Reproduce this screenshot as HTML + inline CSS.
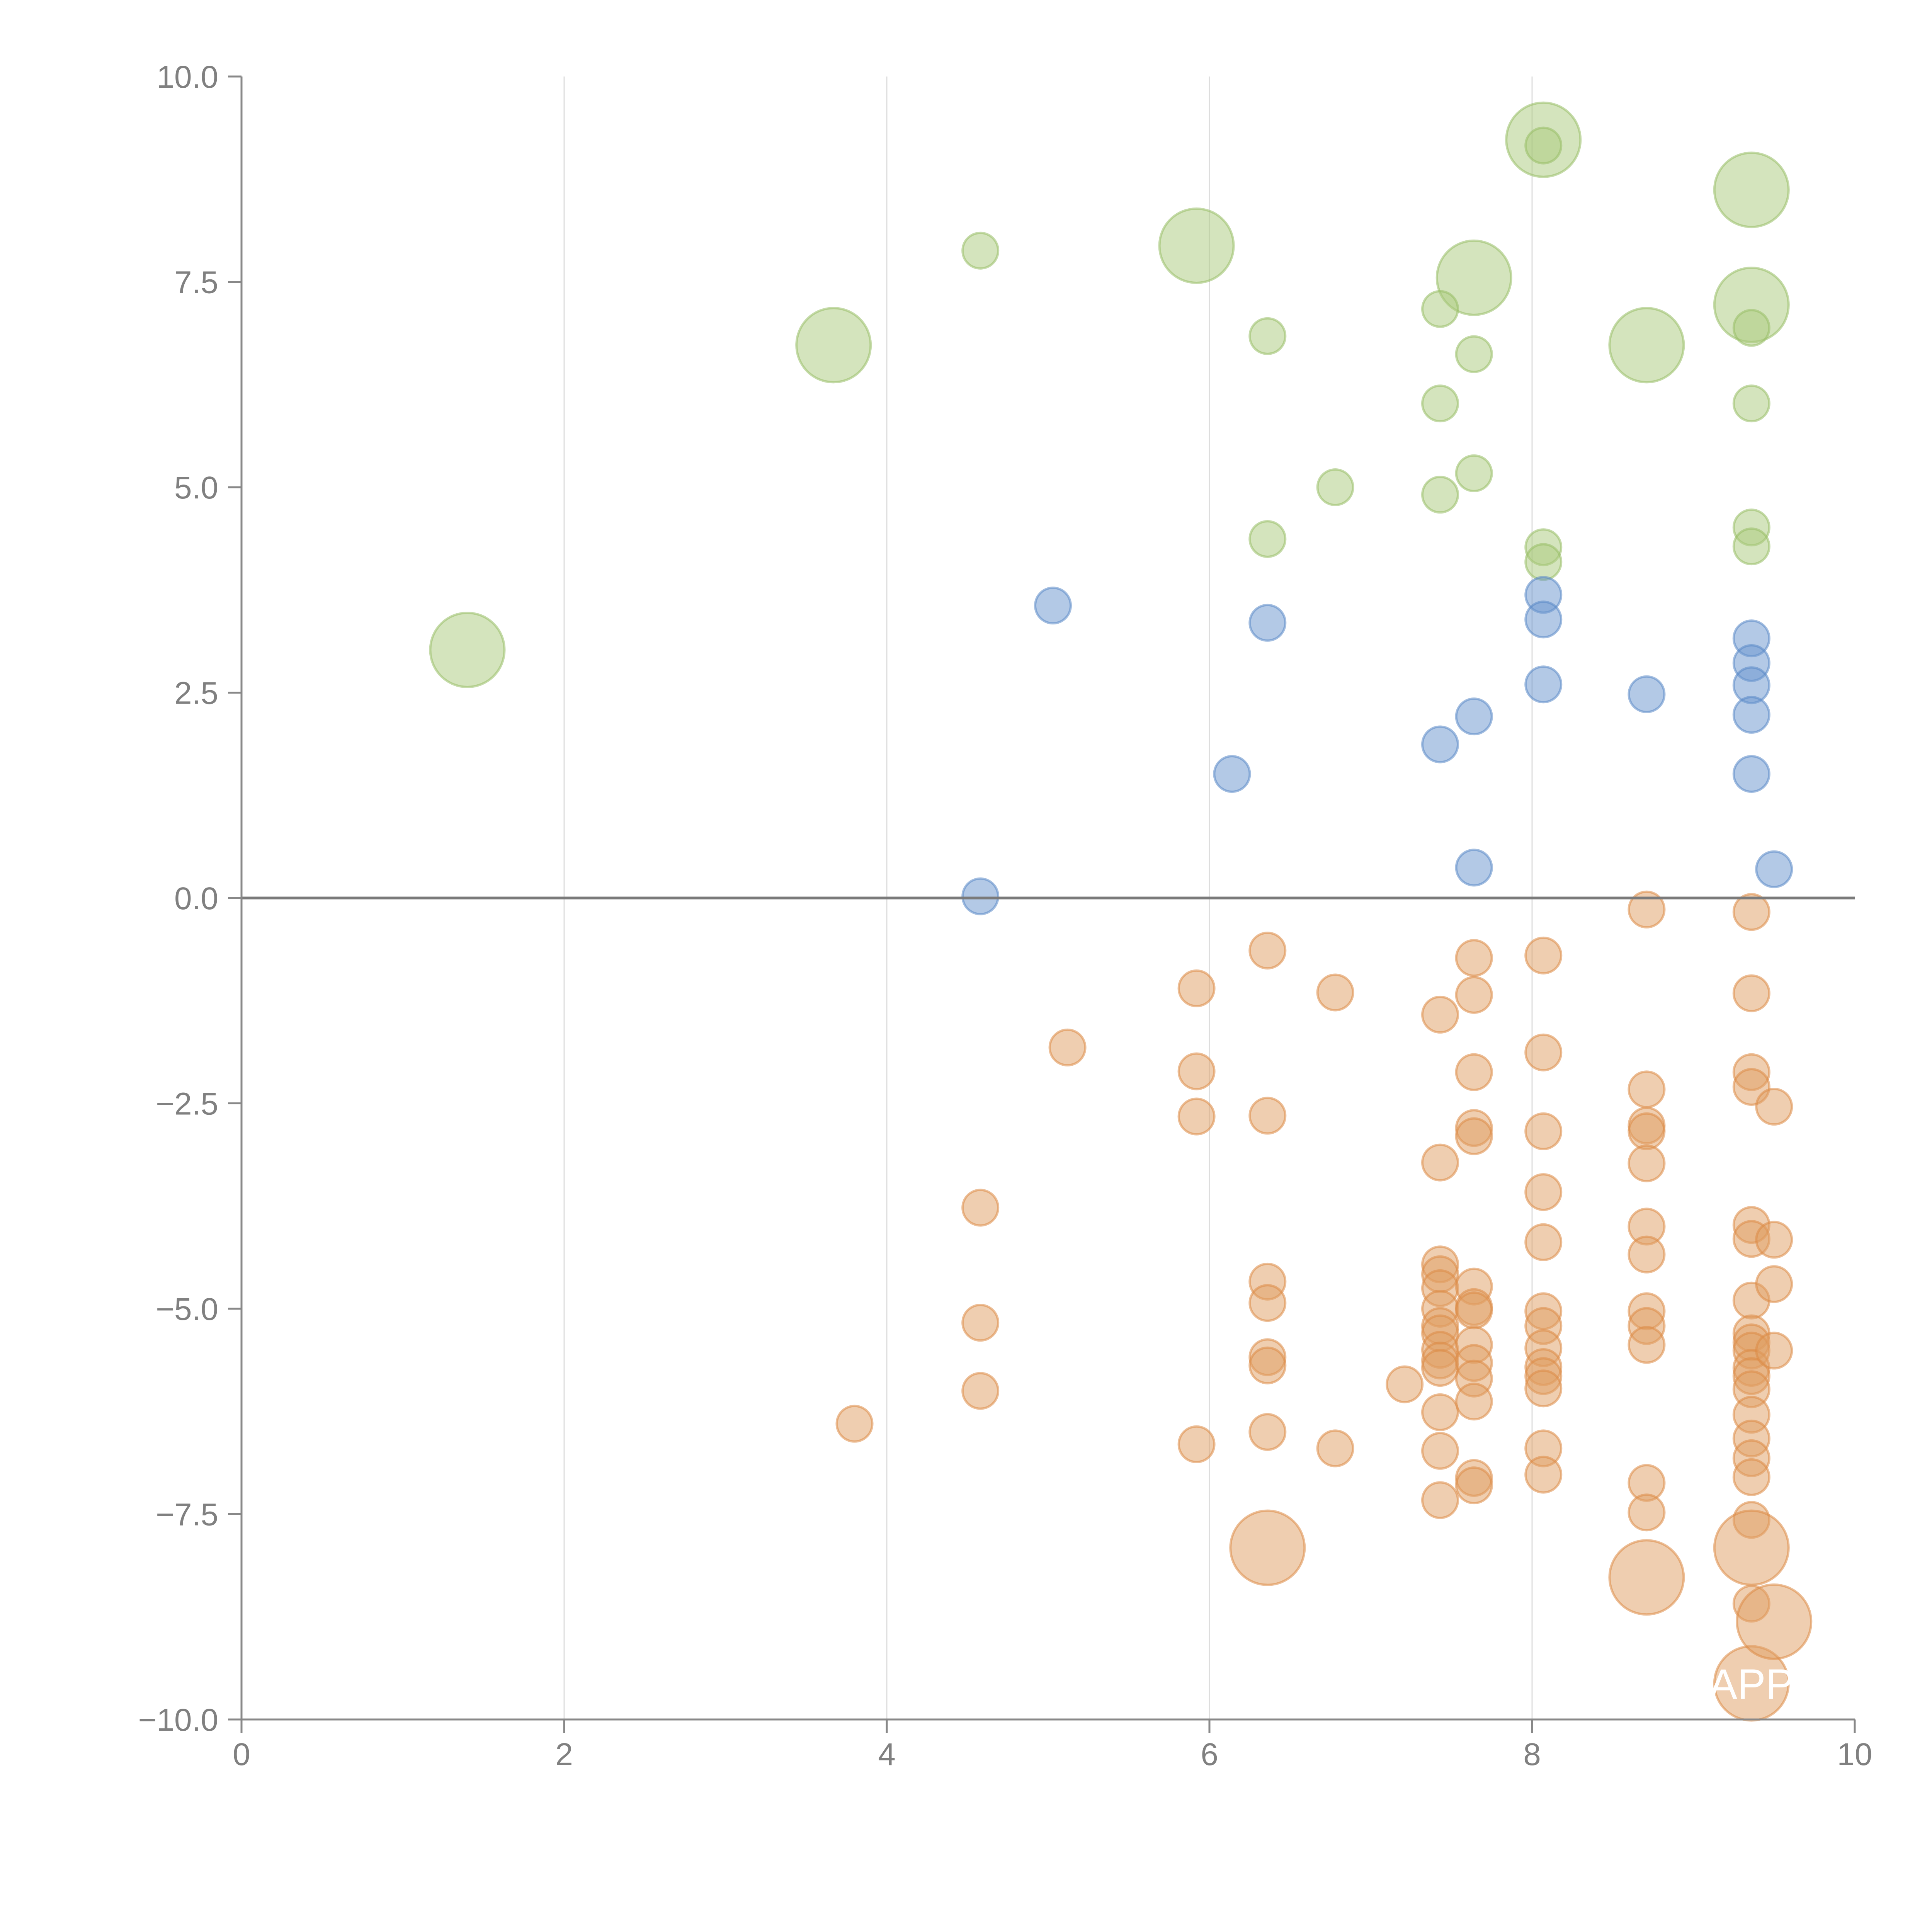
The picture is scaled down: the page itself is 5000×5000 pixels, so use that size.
<!DOCTYPE html>
<html><head><meta charset="utf-8"><style>
html,body{margin:0;padding:0;background:#fff;width:5000px;height:5000px;overflow:hidden}
svg{display:block}
text{font-family:"Liberation Sans",Arial,sans-serif}
</style></head><body>
<svg id="chart" width="5000" height="5000" viewBox="0 0 5000 5000" xmlns="http://www.w3.org/2000/svg">
<g id="grid"></g>
<g id="marks"></g>
<g id="axes"></g>
</svg>
<script>
const xTicks = [0, 2, 4, 6, 8, 10];
const yTicks = [-10, -7.5, -5, -2.5, 0, 2.5, 5, 7.5, 10];
const yTickLabels = ["\u221210.0","\u22127.5","\u22125.0","\u22122.5","0.0","2.5","5.0","7.5","10.0"];

const greenX = [8.07,8.07,9.36,4.58,5.92,7.64,7.43,9.36,3.67,6.36,7.64,8.71,9.36,7.43,9.36,6.78,7.43,7.64,6.36,8.07,8.07,9.36,9.36,1.4];
const greenY = [9.23,9.16,8.62,7.88,7.94,7.55,7.17,7.22,6.73,6.84,6.62,6.73,6.94,6.02,6.02,5.0,4.91,5.17,4.37,4.27,4.09,4.51,4.28,3.02];
const greenS = [2,1,2,1,2,2,1,2,2,1,1,2,1,1,1,1,1,1,1,1,1,1,1,2];

const blueX = [5.03,6.36,8.07,8.07,9.36,9.36,9.36,8.07,8.71,7.64,9.36,7.43,6.14,9.36,7.64,9.5,4.58];
const blueY = [3.56,3.35,3.69,3.39,3.16,2.86,2.59,2.60,2.48,2.21,2.23,1.87,1.51,1.51,0.37,0.35,0.02];
const blueS = [1,1,1,1,1,1,1,1,1,1,1,1,1,1,1,1,1];

const orangeX = [
 8.71,8.71,8.71,8.71,8.71,8.71,8.71,8.71,8.71,8.71,8.71,8.71,8.71,
 9.36,9.36,9.36,9.36,9.36,9.36,9.36,9.36,9.36,9.36,9.36,9.36,9.36,9.36,9.36,9.36,9.36,9.36,9.36,9.36,9.36,
 9.5,9.5,9.5,9.5,9.5,
 6.36,6.36,6.36,6.36,6.36,6.36,6.36,6.36,
 5.92,5.92,5.92,5.92,
 6.78,6.78,5.12,4.58,4.58,4.58,3.8,7.21,
 7.43,7.43,7.43,7.43,7.43,7.43,7.43,7.43,7.43,7.43,7.43,7.43,7.43,7.43,
 7.64,7.64,7.64,7.64,7.64,7.64,7.64,7.64,7.64,7.64,7.64,7.64,7.64,7.64,
 8.07,8.07,8.07,8.07,8.07,8.07,8.07,8.07,8.07,8.07,8.07,8.07,8.07];
const orangeY = [
 -0.14,-2.33,-2.77,-2.84,-3.23,-4.0,-4.34,-5.03,-5.21,-5.44,-7.12,-7.48,-8.27,
 -0.17,-1.16,-2.12,-2.30,-3.98,-4.15,-4.90,-5.30,-5.41,-5.51,-5.72,-5.82,-5.98,-6.29,-6.58,-6.82,-7.05,-7.57,-8.59,-7.91,-9.56,
 -2.54,-4.16,-4.70,-5.51,-8.81,
 -0.64,-2.65,-4.67,-4.93,-5.59,-5.69,-6.50,-7.91,
 -1.10,-2.11,-2.66,-6.65,
 -1.15,-6.70,-1.82,-3.77,-5.17,-6.0,-6.40,-5.92,
 -1.42,-3.22,-4.46,-4.58,-4.75,-5.0,-5.21,-5.30,-5.50,-5.63,-5.72,-6.26,-6.73,-7.33,
 -0.73,-1.18,-2.12,-2.80,-2.90,-4.73,-4.98,-5.02,-5.44,-5.66,-5.85,-6.13,-7.06,-7.15,
 -0.70,-1.88,-2.84,-3.58,-4.19,-5.03,-5.21,-5.48,-5.71,-5.82,-5.97,-6.70,-7.02];
const orangeS = [
 1,1,1,1,1,1,1,1,1,1,1,1,2,
 1,1,1,1,1,1,1,1,1,1,1,1,1,1,1,1,1,1,1,2,2,
 1,1,1,1,2,
 1,1,1,1,1,1,1,2,
 1,1,1,1,
 1,1,1,1,1,1,1,1,
 1,1,1,1,1,1,1,1,1,1,1,1,1,1,
 1,1,1,1,1,1,1,1,1,1,1,1,1,1,
 1,1,1,1,1,1,1,1,1,1,1,1,1];

const NS = "http://www.w3.org/2000/svg";
const X0 = 625, X1 = 4800, YT = 198, YB = 4450;
function sx(v){ return X0 + (v - 0) / 10 * (X1 - X0); }
function sy(v){ return YB - (v + 10) / 20 * (YB - YT); }
function rad(s){ return s === 2 ? 96 : 46; }
function mk(tag, attrs, parent){
  const e = document.createElementNS(NS, tag);
  for (const k in attrs) e.setAttribute(k, attrs[k]);
  parent.appendChild(e);
  return e;
}
const grid = document.getElementById('grid');
const marks = document.getElementById('marks');
const axes = document.getElementById('axes');

xTicks.forEach(function(t){
  if (t === 0 || t === 10) return;
  const l = mk('line', {x1:sx(t), x2:sx(t), y1:YT, y2:YB, stroke:'#dddddd', 'stroke-width':3}, grid);
  
  
});

function drawSeries(xs, ys, ss, fill, stroke, name){
  for (let i = 0; i < xs.length; i++){
    const c = mk('circle', {cx:sx(xs[i]), cy:sy(ys[i]), r:rad(ss[i]), fill:fill, 'fill-opacity':0.5, stroke:stroke, 'stroke-opacity':0.55, 'stroke-width':6}, marks);
    
    
  }
}
drawSeries(greenX, greenY, greenS, '#aac97c', '#98bd66', 'green-bubble');
drawSeries(blueX, blueY, blueS, '#6893cd', '#5a88c6', 'blue-bubble');
drawSeries(orangeX, orangeY, orangeS, '#e09d62', '#dd8a45', 'orange-bubble');

const lab = mk('text', {x:sx(9.36), y:sy(-9.56)+40, 'font-size':110, fill:'#ffffff', 'text-anchor':'middle'}, marks);
lab.textContent = 'APP';



const zl = mk('line', {x1:X0, x2:X1, y1:sy(0), y2:sy(0), stroke:'#7a7a7a', 'stroke-width':7}, axes);



const ya = mk('line', {x1:X0, x2:X0, y1:YT, y2:YB, stroke:'#888888', 'stroke-width':5}, axes);


const xa = mk('line', {x1:X0, x2:X1, y1:YB, y2:YB, stroke:'#888888', 'stroke-width':5}, axes);



xTicks.forEach(function(t){
  const tk = mk('line', {x1:sx(t), x2:sx(t), y1:YB, y2:YB+35, stroke:'#888888', 'stroke-width':5}, axes);
  
  
  const tx = mk('text', {x:sx(t), y:YB+118, 'font-size':82, fill:'#808080', 'text-anchor':'middle'}, axes);
  tx.textContent = String(t);
  
  
});
yTicks.forEach(function(t, i){
  const tk = mk('line', {x1:X0-35, x2:X0, y1:sy(t), y2:sy(t), stroke:'#888888', 'stroke-width':5}, axes);
  
  
  const tx = mk('text', {x:X0-60, y:sy(t)+29, 'font-size':82, fill:'#808080', 'text-anchor':'end'}, axes);
  tx.textContent = yTickLabels[i];
  
  
});
</script>
</body></html>
